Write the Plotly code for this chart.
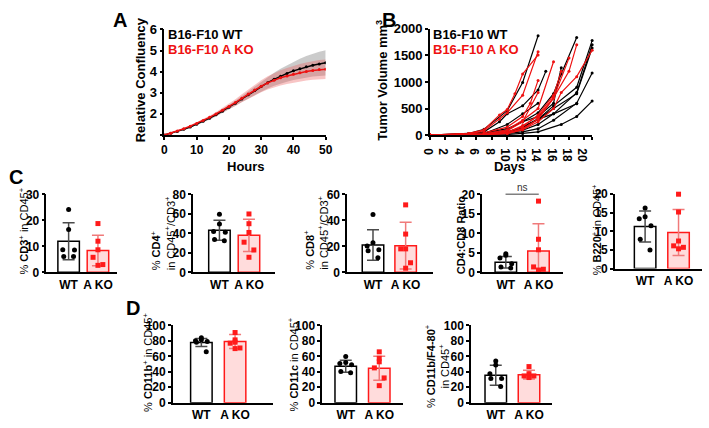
import plotly.graph_objects as go
import numpy as np

W, H = 709, 428
FONT = "Liberation Sans, Arial, sans-serif"

# ---------------- DATA ----------------
hours = [0, 2, 4, 6, 8, 10, 12, 14, 16, 18, 20, 22, 24, 26, 28, 30, 32, 34, 36, 38, 40, 42, 44, 46, 48, 50]
wt_conf = [1.00, 1.08, 1.17, 1.27, 1.38, 1.51, 1.65, 1.80, 1.96, 2.13, 2.32, 2.51, 2.71, 2.91, 3.11, 3.30, 3.48, 3.64, 3.79, 3.92, 4.04, 4.14, 4.23, 4.31, 4.37, 4.42]
ko_conf = [1.00, 1.09, 1.19, 1.30, 1.42, 1.55, 1.69, 1.84, 2.00, 2.17, 2.35, 2.54, 2.74, 2.94, 3.13, 3.31, 3.47, 3.60, 3.71, 3.80, 3.88, 3.95, 4.01, 4.06, 4.10, 4.12]
wt_conf_sd = [0.00, 0.01, 0.02, 0.03, 0.04, 0.05, 0.06, 0.07, 0.08, 0.09, 0.10, 0.12, 0.14, 0.17, 0.20, 0.23, 0.27, 0.31, 0.35, 0.39, 0.43, 0.47, 0.51, 0.54, 0.57, 0.60]
ko_conf_sd = [0.00, 0.01, 0.02, 0.03, 0.04, 0.05, 0.06, 0.07, 0.09, 0.11, 0.13, 0.16, 0.19, 0.22, 0.25, 0.28, 0.31, 0.34, 0.36, 0.38, 0.40, 0.42, 0.43, 0.44, 0.45, 0.46]

wt_days = [
    [0, 5, 7, 10, 12, 14],
    [0, 5, 7, 10, 12, 14, 16, 17, 19],
    [0, 5, 7, 10, 12, 14, 16, 19, 21],
    [0, 5, 7, 10, 12, 14, 16, 19, 21],
    [0, 5, 7, 10, 12, 14, 16, 19, 21],
    [0, 7, 10, 12, 14, 17, 19, 21],
    [0, 7, 10, 12, 14, 16, 19],
    [0, 5, 7, 9, 10, 12, 14, 15],
    [0, 7, 10, 12, 14, 16, 17],
    [0, 7, 10, 12, 14],
    [0, 7, 10, 12, 14, 16, 19, 21],
]
wt_vols = [
    [0, 30, 110, 460, 990, 1870],
    [0, 10, 40, 120, 250, 420, 780, 1150, 1840],
    [0, 5, 20, 60, 150, 300, 550, 900, 1780],
    [0, 5, 15, 40, 90, 200, 400, 800, 1700],
    [0, 5, 10, 30, 60, 120, 280, 600, 1170],
    [0, 5, 10, 30, 60, 200, 350, 640],
    [0, 10, 50, 150, 300, 400, 590],
    [0, 20, 60, 250, 400, 550, 850, 1200],
    [0, 20, 100, 250, 350, 600, 1270],
    [0, 30, 200, 400, 600],
    [0, 10, 50, 120, 300, 500, 780, 1640],
]
ko_days = [
    [0, 5, 7, 9, 10, 11, 12, 14],
    [0, 5, 7, 9, 10, 12, 14],
    [0, 7, 10, 12, 13, 14],
    [0, 7, 10, 12, 14, 16],
    [0, 7, 10, 12, 14, 16, 18, 19],
    [0, 7, 10, 12, 14, 16, 17, 19, 21],
    [0, 7, 10, 12, 14, 16, 17],
    [0, 7, 10, 12, 14, 16, 18],
    [0, 7, 10, 12, 14],
    [0, 7, 10, 12, 14, 16],
]
ko_vols = [
    [0, 30, 100, 380, 480, 780, 1150, 1510],
    [0, 20, 80, 300, 420, 750, 1570],
    [0, 40, 150, 350, 600, 1030],
    [0, 20, 100, 280, 500, 1380],
    [0, 10, 50, 180, 350, 700, 1200, 1700],
    [0, 5, 30, 100, 250, 500, 800, 1100, 1600],
    [0, 10, 60, 150, 380, 750, 1200],
    [0, 10, 40, 120, 300, 700, 1450],
    [0, 20, 80, 250, 800],
    [0, 10, 30, 100, 300, 700],
]

groups = ["WT", "A KO"]
# per-panel values: individual points, bar mean, SD
cd3_wt = [24.2, 16.5, 8.7, 8.6, 6.1, 6.1];       cd3_ko = [18.8, 12.0, 8.7, 5.8, 3.0, 2.7]
cd3_mean = [12.0, 8.4];  cd3_sd = [7.1, 5.9]
cd4_wt = [59.8, 49.6, 42.0, 41.3, 33.7, 32.4];   cd4_ko = [60.0, 50.0, 41.0, 31.0, 23.0, 15.5]
cd4_mean = [43.3, 38.0]; cd4_sd = [10.3, 16.5]
cd8_wt = [44.6, 22.8, 20.3, 17.4, 16.6, 11.2];   cd8_ko = [52.0, 29.5, 18.1, 18.1, 7.4, 3.2]
cd8_mean = [21.1, 20.6]; cd8_sd = [11.8, 18.1]
ratio_wt = [4.8, 4.4, 3.7, 2.2, 1.4, 1.1];       ratio_ko = [18.3, 8.5, 5.8, 1.4, 0.8, 0.6]
ratio_mean = [2.6, 5.5]; ratio_sd = [1.5, 7.0]
b220_wt = [16.3, 13.9, 13.4, 11.5, 7.9, 5.0];    b220_ko = [20.0, 15.2, 7.4, 6.1, 5.7, 5.3]
b220_mean = [11.3, 9.7]; b220_sd = [4.2, 6.2]
cd11b_wt = [84.2, 81.3, 80.0, 79.2, 78.3, 65.8]; cd11b_ko = [90.8, 81.3, 78.3, 77.0, 70.8, 70.0]
cd11b_mean = [77.9, 79.2]; cd11b_sd = [5.2, 9.2]
cd11c_wt = [59.6, 52.0, 50.8, 49.2, 40.4, 38.8]; cd11c_ko = [65.8, 57.5, 52.9, 45.0, 32.0, 22.0]
cd11c_mean = [47.1, 44.6]; cd11c_sd = [7.7, 15.6]
f480_wt = [53.8, 48.8, 37.5, 31.2, 31.2, 20.8];  f480_ko = [46.7, 37.5, 34.6, 34.6, 34.6, 32.5]
f480_mean = [35.4, 36.2]; f480_sd = [12.9, 5.6]

# ---------------- helpers ----------------
def px_x(p):
    return p / W

def px_y(p):
    return 1 - p / H

def btext(vals, blank=()):
    return ["" if v in blank else f"<b>{v}</b>" for v in vals]

fig = go.Figure()
layout = dict(
    width=W, height=H, margin=dict(l=0, r=0, t=0, b=0),
    paper_bgcolor="white", plot_bgcolor="white", showlegend=False,
    barmode="overlay", font=dict(family=FONT, color="black"),
)
annotations = []
shapes = []

AX_COMMON = dict(showline=True, linecolor="black", linewidth=1.6, showgrid=False,
                 zeroline=False, ticks="outside", tickcolor="black", tickwidth=1.5,
                 mirror=False)

def add_axes(idx, xdom_px, ydom_px, xr, yr, xkw=None, ykw=None):
    sfx = "" if idx == 1 else str(idx)
    xa = dict(AX_COMMON)
    xa.update(domain=[px_x(xdom_px[0]), px_x(xdom_px[1])], range=xr, anchor="y" + sfx)
    ya = dict(AX_COMMON)
    ya.update(domain=[px_y(ydom_px[1]), px_y(ydom_px[0])], range=yr, anchor="x" + sfx)
    if xkw: xa.update(xkw)
    if ykw: ya.update(ykw)
    layout["xaxis" + sfx] = xa
    layout["yaxis" + sfx] = ya
    return "x" + sfx, "y" + sfx

def ann(text, x, y, size=12, color="black", angle=0, xanchor="center", yanchor="middle", align="center", bold=True):
    annotations.append(dict(text=text, x=px_x(x), y=px_y(y), xref="paper", yref="paper",
                            showarrow=False, textangle=angle, xanchor=xanchor, yanchor=yanchor,
                            align=align, font=dict(family=FONT, size=size, color=color,
                                                   weight="bold" if bold else "normal")))

# ---------------- Panel A ----------------
xa, ya = add_axes(1, (159, 324), (23.3, 132.7), [0, 50], [1, 6],
                  xkw=dict(tickvals=[0, 10, 20, 30, 40, 50], ticktext=btext([0, 10, 20, 30, 40, 50]),
                           ticklen=3, tickfont=dict(size=12)),
                  ykw=dict(tickvals=[1, 2, 3, 4, 5, 6], ticktext=btext([1, 2, 3, 4, 5, 6], blank=(1,)),
                           ticklen=3, tickfont=dict(size=13)))
for mean, sd, band in [(wt_conf, wt_conf_sd, "rgba(140,140,140,0.45)"),
                       (ko_conf, ko_conf_sd, "rgba(235,90,90,0.35)")]:
    m = np.array(mean); s = np.array(sd)
    fig.add_trace(go.Scatter(x=hours, y=m + s, mode="lines", line=dict(width=0), xaxis=xa, yaxis=ya, hoverinfo="skip"))
    fig.add_trace(go.Scatter(x=hours, y=m - s, mode="lines", line=dict(width=0), fill="tonexty",
                             fillcolor=band, xaxis=xa, yaxis=ya, hoverinfo="skip"))
for mean, col in [(wt_conf, "black"), (ko_conf, "#ee1111")]:
    fig.add_trace(go.Scatter(x=hours, y=mean, mode="lines+markers", line=dict(color=col, width=1.5),
                             marker=dict(size=3, color=col), xaxis=xa, yaxis=ya))
ann("A", 114, 13, size=20)
ann("B16-F10 WT", 161, 28, size=13, xanchor="left")
ann("B16-F10 A KO", 161, 44, size=13, color="#ee1111", xanchor="left")
ann("Relative Confluency", 134, 75, size=13, angle=-90)
ann("Hours", 242, 165, size=13)

# ---------------- Panel B ----------------
xb, yb = add_axes(2, (430.7, 596.6), (22.7, 132.7), [0, 21], [0, 2000],
                  xkw=dict(tickvals=list(range(0, 21, 2)) + [21],
                           ticktext=btext(list(range(0, 21, 2))) + [""], ticklen=3,
                           tickfont=dict(size=12)),
                  ykw=dict(tickvals=[0, 500, 1000, 1500, 2000], ticktext=btext([0, 500, 1000, 1500, 2000]),
                           ticklen=3, tickfont=dict(size=13)))
for d, v in zip(wt_days, wt_vols):
    fig.add_trace(go.Scatter(x=d, y=v, mode="lines+markers", line=dict(color="black", width=1.2),
                             marker=dict(size=3, color="black"), xaxis=xb, yaxis=yb, cliponaxis=False))
for d, v in zip(ko_days, ko_vols):
    fig.add_trace(go.Scatter(x=d, y=v, mode="lines+markers", line=dict(color="#ee1111", width=1.2),
                             marker=dict(size=3, color="#ee1111"), xaxis=xb, yaxis=yb, cliponaxis=False))
ann("B", 389, 13, size=20)
ann("B16-F10 WT", 432, 28, size=13, xanchor="left")
ann("B16-F10 A KO", 432, 44, size=13, color="#ee1111", xanchor="left")
ann("Tumor Volume mm<sup>3</sup>", 382, 76, size=13, angle=-90)
ann("Days", 512, 165, size=13)

# ---------------- Bar panels ----------------
BAR_PX = 22
JIT_WT = [0, 0, -6, 6, -5, 5]
JIT_KO = [0, 0, 0, -5, 5, 0]

def bar_panel(idx, axis_left, axis_right, wt_px, ko_px, ytop_px, ybot_px, ymax, dtick,
              wt_pts, ko_pts, mean, sd, tick_size=12):
    s = ko_px - wt_px
    xr = [(axis_left - wt_px) / s, (axis_right - wt_px) / s]
    yt = list(range(0, ymax + 1, dtick))
    xk, yk = add_axes(idx, (axis_left, axis_right), (ytop_px, ybot_px), xr, [0, ymax],
                      xkw=dict(tickvals=[0, 1], ticktext=btext(groups), ticks="", tickfont=dict(size=12)),
                      ykw=dict(tickvals=yt, ticktext=btext(yt), ticklen=3, tickfont=dict(size=tick_size)))
    w = BAR_PX / s
    fig.add_trace(go.Bar(x=[0], y=[mean[0]], width=w, marker=dict(color="white", line=dict(color="black", width=1.5)),
                         error_y=dict(type="data", array=[sd[0]], color="#4a4a4a", thickness=1.5, width=6),
                         xaxis=xk, yaxis=yk))
    fig.add_trace(go.Bar(x=[1], y=[mean[1]], width=w, marker=dict(color="#ffdcdc", line=dict(color="#ff1a1a", width=1.5)),
                         error_y=dict(type="data", array=[sd[1]], color="#f07a7a", thickness=1.5, width=6),
                         xaxis=xk, yaxis=yk))
    fig.add_trace(go.Scatter(x=[j / s for j in JIT_WT[:len(wt_pts)]], y=wt_pts, mode="markers",
                             marker=dict(size=5, color="black", symbol="circle"), xaxis=xk, yaxis=yk, cliponaxis=False))
    fig.add_trace(go.Scatter(x=[1 + j / s for j in JIT_KO[:len(ko_pts)]], y=ko_pts, mode="markers",
                             marker=dict(size=5, color="#ff1a1a", symbol="square"), xaxis=xk, yaxis=yk, cliponaxis=False))

bar_panel(3, 38.3, 110, 61, 91, 194.3, 275, 30, 10, cd3_wt, cd3_ko, cd3_mean, cd3_sd)
bar_panel(4, 188.3, 271.7, 215.3, 245.5, 194.3, 275, 80, 20, cd4_wt, cd4_ko, cd4_mean, cd4_sd)
bar_panel(5, 346, 434, 372.4, 405.8, 194.3, 275, 60, 20, cd8_wt, cd8_ko, cd8_mean, cd8_sd)
bar_panel(6, 484, 566.7, 508.3, 541.7, 194.3, 275, 20, 5, ratio_wt, ratio_ko, ratio_mean, ratio_sd)
bar_panel(7, 620, 709, 650.8, 685, 194, 271, 20, 5, b220_wt, b220_ko, b220_mean, b220_sd)
bar_panel(8, 167.7, 270, 196.8, 231.3, 330, 410, 100, 20, cd11b_wt, cd11b_ko, cd11b_mean, cd11b_sd)
bar_panel(9, 320.5, 402.7, 344.5, 378.8, 330, 410, 100, 20, cd11c_wt, cd11c_ko, cd11c_mean, cd11c_sd)
bar_panel(10, 472.7, 556, 498, 532, 330, 410, 100, 20, f480_wt, f480_ko, f480_mean, f480_sd)

# significance bar
shapes.append(dict(type="line", xref="paper", yref="paper", x0=px_x(508), x1=px_x(542),
                   y0=px_y(194), y1=px_y(194), line=dict(color="#808080", width=1.5)))
ann("ns", 525, 187, size=10, color="#333333", bold=False)

# panel letters & y titles
ann("C", 7, 176, size=20)
ann("D", 127, 312, size=20)
ann("% <b>CD3</b><sup>+</sup> in CD45<sup>+</sup>", 15, 232, size=11, angle=-90, bold=False)
ann("% <b>CD4</b><sup>+</sup><br>in CD45<sup>+</sup>/CD3<sup>+</sup>", 157, 234, size=11, angle=-90, align="left", bold=False)
ann("% <b>CD8</b><sup>+</sup><br>in CD45<sup>+</sup>/CD3<sup>+</sup>", 314, 234, size=11, angle=-90, align="left", bold=False)
ann("CD4:CD8 Ratio", 462, 236, size=11, angle=-90)
ann("% <b>B220</b><sup>+</sup> in CD45<sup>+</sup>", 601, 231, size=11, angle=-90, bold=False)
ann("% <b>CD11b</b><sup>+</sup> in CD45<sup>+</sup>", 142, 368, size=11, angle=-90, bold=False)
ann("% <b>CD11c</b> in CD45<sup>+</sup>", 291, 370, size=11, angle=-90, bold=False)
ann("% <b>CD11b/F4-80</b><sup>+</sup><br>in CD45<sup>+</sup>", 438, 372, size=11, angle=-90, align="center", bold=False)

layout["annotations"] = annotations
layout["shapes"] = shapes
fig.update_layout(**layout)
fig.write_html("out.html")
